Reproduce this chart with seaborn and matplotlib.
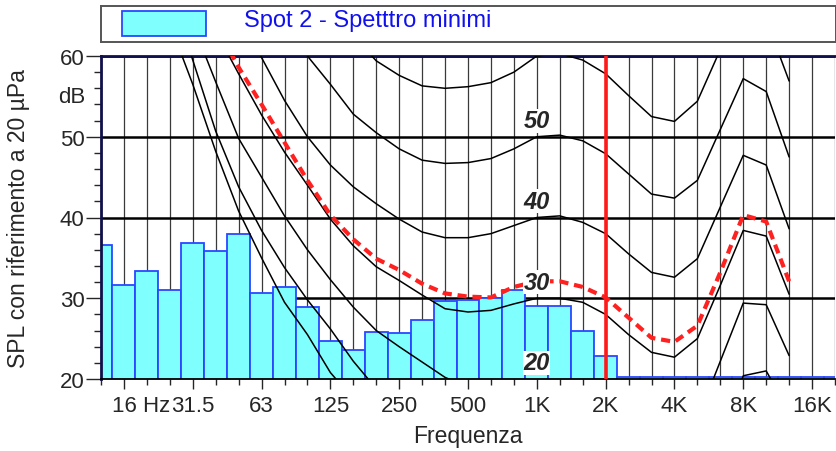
import matplotlib
matplotlib.use("Agg")
import matplotlib.pyplot as plt
import matplotlib.transforms as mtransforms
from matplotlib.patches import Rectangle
import pandas as pd
import seaborn as sns

# third-octave bands, 12.5 Hz .. 20 kHz
bands = ["12.5", "16", "20", "25", "31.5", "40", "50", "63", "80", "100",
         "125", "160", "200", "250", "315", "400", "500", "630", "800", "1K",
         "1.25K", "1.6K", "2K", "2.5K", "3.15K", "4K", "5K", "6.3K", "8K", "10K",
         "12.5K", "16K", "20K"]

# Spot 2 - minimum spectrum (dB)
spl_min = [36.6, 31.6, 33.4, 31.0, 36.8, 35.9, 38.0, 30.6, 31.4, 28.9,
           24.7, 23.6, 25.8, 25.7, 27.3, 29.7, 29.8, 30.0, 31.0, 29.1,
           29.1, 25.9, 22.9, 20.2, 20.2, 20.2, 20.2, 20.2, 20.2, 20.2,
           20.2, 20.2, 20.2]

N = None
# equal loudness contours (phon), None = not drawn
iso_0 = [N, N, N, 64.0, 56.5, 48.2, 40.8, 35.0, 29.5, 25.5,
         20.8, 17.5, N, N, N, N, N, N, N, N,
         N, N, N, N, N, N, N, N, N, N,
         N, N, N]
iso_10 = [N, N, N, 68.0, 59.5, 50.7, 43.8, 38.4, 33.8, 29.8,
          26.2, 22.2, 18.8, N, N, N, N, N, N, N,
          N, N, N, N, N, N, N, 12.0, 20.4, 21.0,
          16.0, N, N]
iso_20 = [N, N, N, N, 64.0, 56.8, 49.8, 45.0, 40.2, 36.0,
          32.3, 28.9, 26.0, 24.0, 22.1, 20.2, 19.0, N, N, N,
          N, N, N, N, N, 12.7, 15.0, 22.2, 29.4, 29.2,
          22.9, N, N]
iso_30 = [N, N, N, N, N, 63.1, 57.8, 52.7, 48.1, 44.0,
          39.8, 36.5, 33.9, 32.2, 30.4, 28.7, 28.3, 28.5, 29.3, 30.0,
          30.0, 29.5, 28.0, 25.5, 23.3, 22.7, 25.0, 31.6, 38.4, 37.7,
          30.5, N, N]
iso_40 = [N, N, N, N, N, N, 65.5, 59.8, 54.5, 50.0,
          46.5, 43.8, 41.7, 39.8, 38.2, 37.5, 37.5, 38.0, 39.0, 40.0,
          40.2, 39.4, 38.0, 35.5, 33.2, 32.6, 34.9, 41.3, 47.7, 46.5,
          38.6, N, N]
iso_50 = [N, N, N, N, N, N, N, N, 64.0, 60.0,
          56.5, 52.8, 50.5, 48.5, 47.1, 46.7, 46.8, 47.3, 48.5, 50.0,
          50.2, 49.5, 47.9, 45.4, 42.9, 42.4, 44.6, 50.9, 57.2, 55.6,
          47.5, N, N]
iso_60 = [N, N, N, N, N, N, N, N, N, N,
          N, 62.5, 59.4, 57.6, 56.3, 56.0, 56.2, 56.7, 58.0, 60.0,
          60.3, 59.5, 57.8, 55.1, 52.5, 51.9, 54.4, 60.8, 66.0, 64.5,
          56.9, N, N]

# red dashed reference curve
red_curve = [N, N, N, N, N, 63.8, 58.6, 54.0, 49.3, 44.6,
             40.3, 37.3, 34.9, 33.5, 31.8, 30.6, 30.2, 30.1, 31.4, 32.1,
             32.1, 31.4, 30.1, 27.6, 25.1, 24.6, 26.6, 33.2, 40.3, 39.5,
             32.1, N, N]

contours = {0: iso_0, 10: iso_10, 20: iso_20, 30: iso_30,
            40: iso_40, 50: iso_50, 60: iso_60}
label_phon = [20, 30, 40, 50]

octave_labels = ["16 Hz", "31.5", "63", "125", "250", "500", "1K", "2K", "4K", "8K", "16K"]
octave_pos = [bands.index(b) for b in
              ["16", "31.5", "63", "125", "250", "500", "1K", "2K", "4K", "8K", "16K"]]
marker_band = "2K"

# long table of contour segments
rows = []
for phon, vals in contours.items():
    seg = 0
    prev = False
    for i, v in enumerate(vals):
        if v is None:
            if prev:
                seg += 1
            prev = False
            continue
        rows.append({"band": i, "spl": v, "seg": f"{phon}_{seg}"})
        prev = True
cont_df = pd.DataFrame(rows)
red_df = pd.DataFrame({"band": range(len(bands)), "spl": red_curve}).dropna()

sns.set_style("white")
plt.rcParams["font.family"] = ["Liberation Sans", "DejaVu Sans"]

fig = plt.figure(figsize=(8.36, 4.52), dpi=100)
ax = fig.add_axes([101 / 836, 72 / 452, 734 / 836, 323 / 452])

sns.barplot(x=bands, y=spl_min, order=bands, color="#80FFFF", saturation=1,
            width=1.0, edgecolor="#2a48ff", linewidth=1.3, errorbar=None, ax=ax)

sns.lineplot(data=cont_df, x="band", y="spl", units="seg", estimator=None,
             color="black", linewidth=1.1, ax=ax, zorder=4, legend=False)
sns.lineplot(data=red_df, x="band", y="spl", color="#ff2020", linewidth=3.0,
             ax=ax, zorder=6, legend=False)
ax.lines[-1].set_linestyle((0, (2.2, 1.4)))

ax.axvline(bands.index(marker_band), color="#ff1a1a", linewidth=2.6, zorder=7)

for p in label_phon:
    ax.text(bands.index("1K"), p + 2, str(p), ha="center", va="center",
            fontsize=17, fontweight="bold", fontstyle="italic", zorder=8,
            bbox=dict(facecolor="white", edgecolor="none", pad=0.4))

ax.set_xlim(0, len(bands) - 1)
ax.set_ylim(20, 60)
ax.set_axisbelow(True)

ax.set_xticks(octave_pos, octave_labels)
ax.set_xticks(range(len(bands)), minor=True)
ax.set_yticks([20, 30, 40, 50, 60])
ax.set_yticks(range(20, 61, 2), minor=True)
ax.grid(axis="x", which="both", color="#3a3a3a", linewidth=0.9)
ax.grid(axis="y", which="major", color="black", linewidth=1.8)
ax.grid(axis="y", which="minor", visible=False)

ax.tick_params(axis="x", which="major", length=7.2, width=1, pad=4, labelsize=16, direction="out")
ax.tick_params(axis="x", which="minor", length=4.3, width=1, direction="out")
ax.tick_params(axis="y", which="major", length=10.8, width=1, pad=1, labelsize=16, direction="out")
ax.tick_params(axis="y", which="minor", length=4.8, width=1, direction="out")
ax.tick_params(bottom=True, left=True, which="both")

# "16 Hz": keep the number centred on its tick
lab = ax.get_xticklabels()[0]
lab.set_horizontalalignment("left")
lab.set_transform(lab.get_transform() + mtransforms.ScaledTranslation(-0.12, 0, fig.dpi_scale_trans))

ax.annotate("dB", xy=(0, 55), xycoords=("axes fraction", "data"), xytext=(-16, 0),
            textcoords="offset pixels", ha="right", va="center", fontsize=16)

for side in ["left", "top"]:
    ax.spines[side].set_color("#10104a")
    ax.spines[side].set_linewidth(2)
ax.spines["bottom"].set_color("black")
ax.spines["bottom"].set_linewidth(1.3)
ax.spines["right"].set_visible(False)

ax.set_xlabel("Frequenza", fontsize=16.5)
ax.xaxis.set_label_coords(0.5, -0.14)
ax.set_ylabel("SPL con riferimento a 20 µPa", fontsize=16.5)
ax.yaxis.set_label_coords(-0.097, 0.5)

# legend box above the plot
lax = fig.add_axes([101 / 836, (452 - 43) / 452, 735 / 836, 36 / 452])
lax.set_xlim(0, 735)
lax.set_ylim(36, 0)
lax.set_xticks([])
lax.set_yticks([])
for s in lax.spines.values():
    s.set_color("#555555")
    s.set_linewidth(1.4)
lax.add_patch(Rectangle((21, 5), 84, 24.5, facecolor="#80FFFF", edgecolor="#2a48ff", linewidth=1.3))
lax.text(143, 14, "Spot 2 - Spetttro minimi", color="#1010ee", fontsize=17, va="center", ha="left")

fig.savefig("out.png", dpi=100)
